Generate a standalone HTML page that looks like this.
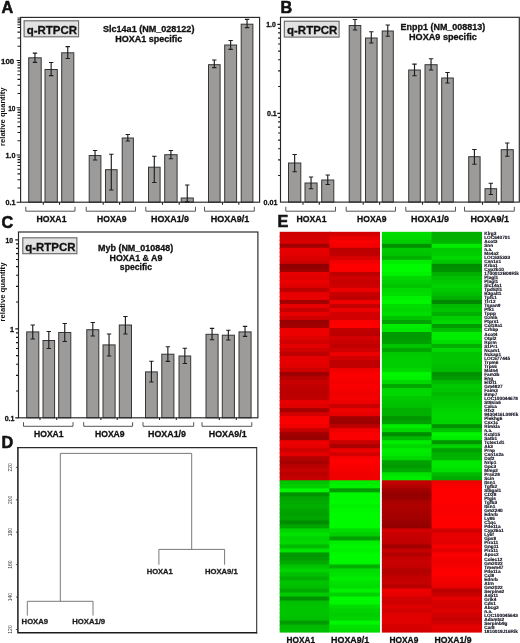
<!DOCTYPE html>
<html><head><meta charset="utf-8"><title>Figure</title>
<style>html,body{margin:0;padding:0;background:#fff;}body{width:520px;height:643px;overflow:hidden;font-family:"Liberation Sans",sans-serif;}svg{display:block}</style>
</head><body>
<svg width="520" height="643" viewBox="0 0 520 643" font-family="Liberation Sans, sans-serif" style="will-change:transform">
<rect width="520" height="643" fill="#fff"/>
<text x="1.5" y="12.6" font-size="16.2" font-weight="bold" text-anchor="start" fill="#111" stroke="#111" stroke-width="0.55">A</text>
<path d="M16.60 202.25H20.60M17.50 188.03H20.60M17.50 179.71H20.60M17.50 173.80H20.60M17.50 169.22H20.60M17.50 165.48H20.60M17.50 162.32H20.60M17.50 159.58H20.60M17.50 157.16H20.60M16.60 155.00H20.60M17.50 140.78H20.60M17.50 132.46H20.60M17.50 126.55H20.60M17.50 121.97H20.60M17.50 118.23H20.60M17.50 115.07H20.60M17.50 112.33H20.60M17.50 109.91H20.60M16.60 107.75H20.60M17.50 93.53H20.60M17.50 85.21H20.60M17.50 79.30H20.60M17.50 74.72H20.60M17.50 70.98H20.60M17.50 67.82H20.60M17.50 65.08H20.60M17.50 62.66H20.60M16.60 60.50H20.60M17.50 46.28H20.60M17.50 37.96H20.60M17.50 32.05H20.60M17.50 27.47H20.60" stroke="#1a1a1a" stroke-width="1.15" fill="none"/>
<path d="M17.50 18.0H20.6M17.50 19.7H20.6M17.50 21.2H20.6M17.50 22.7H20.6M17.50 24.8H20.6" stroke="#262626" stroke-width="1" fill="none"/>
<rect x="24.1" y="20.8" width="54.49999999999999" height="15.999999999999996" fill="#e2e2e2" stroke="#666" stroke-width="1.1"/>
<text x="51.849999999999994" y="33.8" font-size="10.8" font-weight="bold" text-anchor="middle" fill="#111" stroke="#111" stroke-width="0.28" textLength="50.3" lengthAdjust="spacingAndGlyphs" >q-RTPCR</text>
<text x="148.7" y="31.5" font-size="8.3" font-weight="bold" text-anchor="middle" fill="#111" stroke="#111" stroke-width="0.28" textLength="91.4" lengthAdjust="spacingAndGlyphs" >Slc14a1 (NM_028122)</text>
<text x="148.7" y="41.5" font-size="8.3" font-weight="bold" text-anchor="middle" fill="#111" stroke="#111" stroke-width="0.28" textLength="67" lengthAdjust="spacingAndGlyphs" >HOXA1 specific</text>
<text x="14.2" y="63.5" font-size="7.7" font-weight="bold" text-anchor="end" fill="#111" stroke="#111" stroke-width="0.28" textLength="13.1" lengthAdjust="spacingAndGlyphs" >100</text>
<text x="15.4" y="110.7" font-size="7.5" font-weight="bold" text-anchor="end" fill="#111" stroke="#111" stroke-width="0.28" textLength="7.2" lengthAdjust="spacingAndGlyphs" >10</text>
<text x="15.4" y="158.1" font-size="7.5" font-weight="bold" text-anchor="end" fill="#111" stroke="#111" stroke-width="0.28" textLength="10" lengthAdjust="spacingAndGlyphs" >1.0</text>
<text x="15.4" y="205.3" font-size="7.5" font-weight="bold" text-anchor="end" fill="#111" stroke="#111" stroke-width="0.28" textLength="10" lengthAdjust="spacingAndGlyphs" >0.1</text>
<text transform="translate(5.2,116.7) rotate(-90)" font-size="6.3" font-weight="bold" text-anchor="middle" fill="#111" textLength="58.5" lengthAdjust="spacingAndGlyphs">relative quantity</text>
<rect x="28.70" y="57.80" width="12.50" height="144.40" fill="#9d9b9a" stroke="#363636" stroke-width="1"/>
<path d="M34.95 53.10V62.30M32.75 53.10H37.15M32.75 62.30H37.15" stroke="#1e1e1e" stroke-width="1.15" fill="none"/>
<rect x="45.00" y="69.50" width="12.30" height="132.70" fill="#9d9b9a" stroke="#363636" stroke-width="1"/>
<path d="M51.15 62.50V75.60M48.95 62.50H53.35M48.95 75.60H53.35" stroke="#1e1e1e" stroke-width="1.15" fill="none"/>
<rect x="61.70" y="52.80" width="12.10" height="149.40" fill="#9d9b9a" stroke="#363636" stroke-width="1"/>
<path d="M67.75 46.60V58.50M65.55 46.60H69.95M65.55 58.50H69.95" stroke="#1e1e1e" stroke-width="1.15" fill="none"/>
<rect x="89.20" y="155.50" width="11.70" height="46.70" fill="#9d9b9a" stroke="#363636" stroke-width="1"/>
<path d="M95.05 150.50V160.00M92.85 150.50H97.25M92.85 160.00H97.25" stroke="#1e1e1e" stroke-width="1.15" fill="none"/>
<rect x="105.50" y="169.70" width="11.60" height="32.50" fill="#9d9b9a" stroke="#363636" stroke-width="1"/>
<path d="M111.30 154.20V190.00M109.10 154.20H113.50M109.10 190.00H113.50" stroke="#1e1e1e" stroke-width="1.15" fill="none"/>
<rect x="122.20" y="138.00" width="11.20" height="64.20" fill="#9d9b9a" stroke="#363636" stroke-width="1"/>
<path d="M127.80 134.50V141.00M125.60 134.50H130.00M125.60 141.00H130.00" stroke="#1e1e1e" stroke-width="1.15" fill="none"/>
<rect x="148.50" y="167.20" width="11.60" height="35.00" fill="#9d9b9a" stroke="#363636" stroke-width="1"/>
<path d="M154.30 156.20V182.50M152.10 156.20H156.50M152.10 182.50H156.50" stroke="#1e1e1e" stroke-width="1.15" fill="none"/>
<rect x="164.70" y="154.70" width="12.40" height="47.50" fill="#9d9b9a" stroke="#363636" stroke-width="1"/>
<path d="M170.90 150.50V158.70M168.70 150.50H173.10M168.70 158.70H173.10" stroke="#1e1e1e" stroke-width="1.15" fill="none"/>
<rect x="181.20" y="198.00" width="12.10" height="4.20" fill="#9d9b9a" stroke="#363636" stroke-width="1"/>
<path d="M187.25 185.00V201.60M185.05 185.00H189.45M185.05 201.60H189.45" stroke="#1e1e1e" stroke-width="1.15" fill="none"/>
<rect x="208.50" y="64.70" width="11.60" height="137.50" fill="#9d9b9a" stroke="#363636" stroke-width="1"/>
<path d="M214.30 60.00V67.60M212.10 60.00H216.50M212.10 67.60H216.50" stroke="#1e1e1e" stroke-width="1.15" fill="none"/>
<rect x="224.70" y="45.00" width="11.90" height="157.20" fill="#9d9b9a" stroke="#363636" stroke-width="1"/>
<path d="M230.65 40.50V49.30M228.45 40.50H232.85M228.45 49.30H232.85" stroke="#1e1e1e" stroke-width="1.15" fill="none"/>
<rect x="241.20" y="24.20" width="11.70" height="178.00" fill="#9d9b9a" stroke="#363636" stroke-width="1"/>
<path d="M247.05 19.30V27.60M244.85 19.30H249.25M244.85 27.60H249.25" stroke="#1e1e1e" stroke-width="1.15" fill="none"/>
<rect x="20.6" y="17.4" width="239.00000000000003" height="184.79999999999998" fill="none" stroke="#262626" stroke-width="1.15"/>
<path d="M25.80 206.80V211.20H75.00V206.80" stroke="#555" stroke-width="1" fill="none"/>
<path d="M86.20 206.80V211.20H135.50V206.80" stroke="#555" stroke-width="1" fill="none"/>
<path d="M145.80 206.80V211.20H195.50V206.80" stroke="#555" stroke-width="1" fill="none"/>
<path d="M204.50 206.80V211.20H254.30V206.80" stroke="#555" stroke-width="1" fill="none"/>
<path d="M43.3 202.2V204.79999999999998M59.5 202.2V204.79999999999998M103.2 202.2V204.79999999999998M119.6 202.2V204.79999999999998M162.5 202.2V204.79999999999998M179.2 202.2V204.79999999999998M222.5 202.2V204.79999999999998M238.8 202.2V204.79999999999998" stroke="#222" stroke-width="1.1" fill="none"/>
<text x="51.5" y="222.3" font-size="8.5" font-weight="bold" text-anchor="middle" fill="#111" stroke="#111" stroke-width="0.28" textLength="30" lengthAdjust="spacingAndGlyphs" >HOXA1</text>
<text x="111.8" y="222.3" font-size="8.5" font-weight="bold" text-anchor="middle" fill="#111" stroke="#111" stroke-width="0.28" textLength="29.5" lengthAdjust="spacingAndGlyphs" >HOXA9</text>
<text x="170" y="222.3" font-size="8.5" font-weight="bold" text-anchor="middle" fill="#111" stroke="#111" stroke-width="0.28" textLength="38" lengthAdjust="spacingAndGlyphs" >HOXA1/9</text>
<text x="230" y="222.3" font-size="8.5" font-weight="bold" text-anchor="middle" fill="#111" stroke="#111" stroke-width="0.28" textLength="38.5" lengthAdjust="spacingAndGlyphs" >HOXA9/1</text>
<text x="280.6" y="13.3" font-size="16.2" font-weight="bold" text-anchor="start" fill="#111" stroke="#111" stroke-width="0.55">B</text>
<path d="M278.10 175.51H280.50M278.10 159.84H280.50M278.10 148.72H280.50M278.10 140.09H280.50M278.10 133.04H280.50M278.10 127.09H280.50M278.10 121.92H280.50M278.10 117.37H280.50M277.30 113.30H280.50M278.10 86.51H280.50M278.10 70.84H280.50M278.10 59.72H280.50M278.10 51.09H280.50M278.10 44.04H280.50M278.10 38.09H280.50M278.10 32.92H280.50M278.10 28.37H280.50M277.30 24.30H280.50" stroke="#1a1a1a" stroke-width="1.15" fill="none"/>
<rect x="284.3" y="21.2" width="54.80000000000001" height="15.900000000000002" fill="#e2e2e2" stroke="#666" stroke-width="1.1"/>
<text x="312.20000000000005" y="34.2" font-size="10.8" font-weight="bold" text-anchor="middle" fill="#111" stroke="#111" stroke-width="0.28" textLength="50.3" lengthAdjust="spacingAndGlyphs" >q-RTPCR</text>
<text x="442.9" y="29.9" font-size="8.3" font-weight="bold" text-anchor="middle" fill="#111" stroke="#111" stroke-width="0.28" textLength="84.6" lengthAdjust="spacingAndGlyphs" >Enpp1 (NM_008813)</text>
<text x="442.9" y="39.8" font-size="8.3" font-weight="bold" text-anchor="middle" fill="#111" stroke="#111" stroke-width="0.28" textLength="67.7" lengthAdjust="spacingAndGlyphs" >HOXA9 specific</text>
<text x="275.8" y="27.4" font-size="7.2" font-weight="bold" text-anchor="end" fill="#111" stroke="#111" stroke-width="0.28" textLength="9.6" lengthAdjust="spacingAndGlyphs" >1.0</text>
<text x="276.8" y="116.1" font-size="7.2" font-weight="bold" text-anchor="end" fill="#111" stroke="#111" stroke-width="0.28" textLength="9.8" lengthAdjust="spacingAndGlyphs" >0.1</text>
<text x="277.4" y="205.3" font-size="7.2" font-weight="bold" text-anchor="end" fill="#111" stroke="#111" stroke-width="0.28" textLength="13.8" lengthAdjust="spacingAndGlyphs" >0.01</text>
<rect x="288.50" y="163.00" width="12.30" height="39.10" fill="#9d9b9a" stroke="#363636" stroke-width="1"/>
<path d="M294.65 154.50V171.70M292.45 154.50H296.85M292.45 171.70H296.85" stroke="#1e1e1e" stroke-width="1.15" fill="none"/>
<rect x="305.00" y="183.00" width="12.10" height="19.10" fill="#9d9b9a" stroke="#363636" stroke-width="1"/>
<path d="M311.05 177.00V188.70M308.85 177.00H313.25M308.85 188.70H313.25" stroke="#1e1e1e" stroke-width="1.15" fill="none"/>
<rect x="321.70" y="180.00" width="12.10" height="22.10" fill="#9d9b9a" stroke="#363636" stroke-width="1"/>
<path d="M327.75 175.00V184.50M325.55 175.00H329.95M325.55 184.50H329.95" stroke="#1e1e1e" stroke-width="1.15" fill="none"/>
<rect x="349.20" y="25.50" width="11.60" height="176.60" fill="#9d9b9a" stroke="#363636" stroke-width="1"/>
<path d="M355.00 19.50V30.00M352.80 19.50H357.20M352.80 30.00H357.20" stroke="#1e1e1e" stroke-width="1.15" fill="none"/>
<rect x="365.50" y="38.00" width="11.60" height="164.10" fill="#9d9b9a" stroke="#363636" stroke-width="1"/>
<path d="M371.30 31.70V43.00M369.10 31.70H373.50M369.10 43.00H373.50" stroke="#1e1e1e" stroke-width="1.15" fill="none"/>
<rect x="382.20" y="31.00" width="11.10" height="171.10" fill="#9d9b9a" stroke="#363636" stroke-width="1"/>
<path d="M387.75 25.00V36.20M385.55 25.00H389.95M385.55 36.20H389.95" stroke="#1e1e1e" stroke-width="1.15" fill="none"/>
<rect x="408.70" y="70.00" width="11.60" height="132.10" fill="#9d9b9a" stroke="#363636" stroke-width="1"/>
<path d="M414.50 64.20V75.70M412.30 64.20H416.70M412.30 75.70H416.70" stroke="#1e1e1e" stroke-width="1.15" fill="none"/>
<rect x="425.00" y="64.70" width="12.10" height="137.40" fill="#9d9b9a" stroke="#363636" stroke-width="1"/>
<path d="M431.05 58.70V70.00M428.85 58.70H433.25M428.85 70.00H433.25" stroke="#1e1e1e" stroke-width="1.15" fill="none"/>
<rect x="441.70" y="78.00" width="11.60" height="124.10" fill="#9d9b9a" stroke="#363636" stroke-width="1"/>
<path d="M447.50 72.50V83.00M445.30 72.50H449.70M445.30 83.00H449.70" stroke="#1e1e1e" stroke-width="1.15" fill="none"/>
<rect x="468.70" y="156.70" width="11.40" height="45.40" fill="#9d9b9a" stroke="#363636" stroke-width="1"/>
<path d="M474.40 149.50V164.20M472.20 149.50H476.60M472.20 164.20H476.60" stroke="#1e1e1e" stroke-width="1.15" fill="none"/>
<rect x="485.00" y="188.70" width="11.60" height="13.40" fill="#9d9b9a" stroke="#363636" stroke-width="1"/>
<path d="M490.80 183.20V194.50M488.60 183.20H493.00M488.60 194.50H493.00" stroke="#1e1e1e" stroke-width="1.15" fill="none"/>
<rect x="501.20" y="149.70" width="12.10" height="52.40" fill="#9d9b9a" stroke="#363636" stroke-width="1"/>
<path d="M507.25 143.00V156.20M505.05 143.00H509.45M505.05 156.20H509.45" stroke="#1e1e1e" stroke-width="1.15" fill="none"/>
<rect x="280.5" y="17.3" width="238.79999999999995" height="184.79999999999998" fill="none" stroke="#262626" stroke-width="1.15"/>
<path d="M285.80 206.80V211.20H335.50V206.80" stroke="#555" stroke-width="1" fill="none"/>
<path d="M346.20 206.80V211.20H395.50V206.80" stroke="#555" stroke-width="1" fill="none"/>
<path d="M405.80 206.80V211.20H455.50V206.80" stroke="#555" stroke-width="1" fill="none"/>
<path d="M464.50 206.80V211.20H514.30V206.80" stroke="#555" stroke-width="1" fill="none"/>
<path d="M303 202.1V204.7M319.3 202.1V204.7M363.2 202.1V204.7M379.6 202.1V204.7M422.5 202.1V204.7M439.2 202.1V204.7M482.5 202.1V204.7M498.8 202.1V204.7" stroke="#222" stroke-width="1.1" fill="none"/>
<text x="311.5" y="222.3" font-size="8.5" font-weight="bold" text-anchor="middle" fill="#111" stroke="#111" stroke-width="0.28" textLength="30" lengthAdjust="spacingAndGlyphs" >HOXA1</text>
<text x="371.8" y="222.3" font-size="8.5" font-weight="bold" text-anchor="middle" fill="#111" stroke="#111" stroke-width="0.28" textLength="29.5" lengthAdjust="spacingAndGlyphs" >HOXA9</text>
<text x="430" y="222.3" font-size="8.5" font-weight="bold" text-anchor="middle" fill="#111" stroke="#111" stroke-width="0.28" textLength="38" lengthAdjust="spacingAndGlyphs" >HOXA1/9</text>
<text x="489.7" y="222.3" font-size="8.5" font-weight="bold" text-anchor="middle" fill="#111" stroke="#111" stroke-width="0.28" textLength="38.5" lengthAdjust="spacingAndGlyphs" >HOXA9/1</text>
<text x="1.6" y="228.2" font-size="16.2" font-weight="bold" text-anchor="start" fill="#111" stroke="#111" stroke-width="0.55">C</text>
<path d="M15.30 417.80H18.50M16.00 391.01H18.50M16.00 375.34H18.50M16.00 364.22H18.50M16.00 355.59H18.50M16.00 348.54H18.50M16.00 342.59H18.50M16.00 337.42H18.50M16.00 332.87H18.50M15.30 328.80H18.50M16.00 302.01H18.50M16.00 286.34H18.50M16.00 275.22H18.50M16.00 266.59H18.50M16.00 259.54H18.50M16.00 253.59H18.50M16.00 248.42H18.50M16.00 243.87H18.50M15.30 239.80H18.50" stroke="#1a1a1a" stroke-width="1.15" fill="none"/>
<rect x="22.8" y="237.8" width="54.10000000000001" height="15.899999999999977" fill="#e2e2e2" stroke="#666" stroke-width="1.1"/>
<text x="50.35" y="250.8" font-size="10.8" font-weight="bold" text-anchor="middle" fill="#111" stroke="#111" stroke-width="0.28" textLength="50.3" lengthAdjust="spacingAndGlyphs" >q-RTPCR</text>
<text x="135.6" y="250.8" font-size="8.3" font-weight="bold" text-anchor="middle" fill="#111" stroke="#111" stroke-width="0.28" textLength="75.1" lengthAdjust="spacingAndGlyphs" >Myb (NM_010848)</text>
<text x="136" y="260.7" font-size="8.3" font-weight="bold" text-anchor="middle" fill="#111" stroke="#111" stroke-width="0.28" textLength="52.9" lengthAdjust="spacingAndGlyphs" >HOXA1 &amp; A9</text>
<text x="135.9" y="269.8" font-size="8.3" font-weight="bold" text-anchor="middle" fill="#111" stroke="#111" stroke-width="0.28" textLength="32.1" lengthAdjust="spacingAndGlyphs" >specific</text>
<text x="12.9" y="243.2" font-size="7.2" font-weight="bold" text-anchor="end" fill="#111" stroke="#111" stroke-width="0.28" textLength="7.5" lengthAdjust="spacingAndGlyphs" >10</text>
<text x="14" y="331.6" font-size="7.2" font-weight="bold" text-anchor="end" fill="#111" stroke="#111" stroke-width="0.28" >1</text>
<text x="14.5" y="420.9" font-size="7.2" font-weight="bold" text-anchor="end" fill="#111" stroke="#111" stroke-width="0.28" textLength="9.8" lengthAdjust="spacingAndGlyphs" >0.1</text>
<text transform="translate(5.3,292) rotate(-90)" font-size="6.3" font-weight="bold" text-anchor="middle" fill="#111" textLength="58.8" lengthAdjust="spacingAndGlyphs">relative quantity</text>
<rect x="26.70" y="331.90" width="12.10" height="85.90" fill="#9d9b9a" stroke="#363636" stroke-width="1"/>
<path d="M32.75 325.00V339.00M30.55 325.00H34.95M30.55 339.00H34.95" stroke="#1e1e1e" stroke-width="1.15" fill="none"/>
<rect x="43.00" y="340.50" width="11.60" height="77.30" fill="#9d9b9a" stroke="#363636" stroke-width="1"/>
<path d="M48.80 331.50V348.50M46.60 331.50H51.00M46.60 348.50H51.00" stroke="#1e1e1e" stroke-width="1.15" fill="none"/>
<rect x="58.70" y="332.50" width="12.10" height="85.30" fill="#9d9b9a" stroke="#363636" stroke-width="1"/>
<path d="M64.75 323.50V341.50M62.55 323.50H66.95M62.55 341.50H66.95" stroke="#1e1e1e" stroke-width="1.15" fill="none"/>
<rect x="86.80" y="329.70" width="12.00" height="88.10" fill="#9d9b9a" stroke="#363636" stroke-width="1"/>
<path d="M92.80 322.50V336.00M90.60 322.50H95.00M90.60 336.00H95.00" stroke="#1e1e1e" stroke-width="1.15" fill="none"/>
<rect x="103.00" y="344.90" width="12.10" height="72.90" fill="#9d9b9a" stroke="#363636" stroke-width="1"/>
<path d="M109.05 334.00V356.00M106.85 334.00H111.25M106.85 356.00H111.25" stroke="#1e1e1e" stroke-width="1.15" fill="none"/>
<rect x="119.30" y="325.00" width="12.20" height="92.80" fill="#9d9b9a" stroke="#363636" stroke-width="1"/>
<path d="M125.40 316.50V334.00M123.20 316.50H127.60M123.20 334.00H127.60" stroke="#1e1e1e" stroke-width="1.15" fill="none"/>
<rect x="145.50" y="371.90" width="11.80" height="45.90" fill="#9d9b9a" stroke="#363636" stroke-width="1"/>
<path d="M151.40 361.20V382.00M149.20 361.20H153.60M149.20 382.00H153.60" stroke="#1e1e1e" stroke-width="1.15" fill="none"/>
<rect x="161.80" y="354.20" width="12.10" height="63.60" fill="#9d9b9a" stroke="#363636" stroke-width="1"/>
<path d="M167.85 346.70V361.30M165.65 346.70H170.05M165.65 361.30H170.05" stroke="#1e1e1e" stroke-width="1.15" fill="none"/>
<rect x="179.00" y="356.00" width="11.70" height="61.80" fill="#9d9b9a" stroke="#363636" stroke-width="1"/>
<path d="M184.85 348.20V363.50M182.65 348.20H187.05M182.65 363.50H187.05" stroke="#1e1e1e" stroke-width="1.15" fill="none"/>
<rect x="206.00" y="334.30" width="12.10" height="83.50" fill="#9d9b9a" stroke="#363636" stroke-width="1"/>
<path d="M212.05 328.30V339.70M209.85 328.30H214.25M209.85 339.70H214.25" stroke="#1e1e1e" stroke-width="1.15" fill="none"/>
<rect x="222.30" y="335.20" width="12.10" height="82.60" fill="#9d9b9a" stroke="#363636" stroke-width="1"/>
<path d="M228.35 330.20V340.00M226.15 330.20H230.55M226.15 340.00H230.55" stroke="#1e1e1e" stroke-width="1.15" fill="none"/>
<rect x="239.00" y="331.90" width="12.10" height="85.90" fill="#9d9b9a" stroke="#363636" stroke-width="1"/>
<path d="M245.05 326.30V336.40M242.85 326.30H247.25M242.85 336.40H247.25" stroke="#1e1e1e" stroke-width="1.15" fill="none"/>
<rect x="18.5" y="232" width="239.39999999999998" height="185.8" fill="none" stroke="#262626" stroke-width="1.15"/>
<path d="M23.50 422.20V426.30H73.00V422.20" stroke="#555" stroke-width="1" fill="none"/>
<path d="M83.70 422.20V426.30H132.60V422.20" stroke="#555" stroke-width="1" fill="none"/>
<path d="M143.00 422.20V426.30H193.70V422.20" stroke="#555" stroke-width="1" fill="none"/>
<path d="M202.00 422.20V426.30H251.80V422.20" stroke="#555" stroke-width="1" fill="none"/>
<path d="M40 417.8V420.0M56.7 417.8V420.0M100.9 417.8V420.0M117.2 417.8V420.0M159.5 417.8V420.0M176.3 417.8V420.0M219.3 417.8V420.0M236.3 417.8V420.0" stroke="#222" stroke-width="1.1" fill="none"/>
<text x="48.8" y="437.3" font-size="8.5" font-weight="bold" text-anchor="middle" fill="#111" stroke="#111" stroke-width="0.28" textLength="29.6" lengthAdjust="spacingAndGlyphs" >HOXA1</text>
<text x="109.8" y="437.3" font-size="8.5" font-weight="bold" text-anchor="middle" fill="#111" stroke="#111" stroke-width="0.28" textLength="29.6" lengthAdjust="spacingAndGlyphs" >HOXA9</text>
<text x="167" y="437.3" font-size="8.5" font-weight="bold" text-anchor="middle" fill="#111" stroke="#111" stroke-width="0.28" textLength="37.9" lengthAdjust="spacingAndGlyphs" >HOXA1/9</text>
<text x="227.7" y="437.3" font-size="8.5" font-weight="bold" text-anchor="middle" fill="#111" stroke="#111" stroke-width="0.28" textLength="37.9" lengthAdjust="spacingAndGlyphs" >HOXA9/1</text>
<text x="1.4" y="448.4" font-size="16.2" font-weight="bold" text-anchor="start" fill="#111" stroke="#111" stroke-width="0.55">D</text>
<path d="M17.9 447.1V632.7H257.2" stroke="#1c1c1c" stroke-width="1.5" fill="none" stroke-linejoin="miter"/>
<path d="M17.2 447.6H256.7V633.4" stroke="#2a2a2a" stroke-width="1.05" fill="none"/>
<path d="M60.3 601.3V453.4H191.7V549.4M27.3 615.6V601.3H93V615.6M158.9 564.7V549.4H224.6V564.7" stroke="#6a6a6a" stroke-width="0.9" fill="none"/>
<text x="34.8" y="624.3" font-size="7.6" font-weight="bold" text-anchor="middle" fill="#1c1c1c" stroke="#1c1c1c" stroke-width="0.28" textLength="26.4" lengthAdjust="spacingAndGlyphs" >HOXA9</text>
<text x="88.7" y="624.3" font-size="7.6" font-weight="bold" text-anchor="middle" fill="#1c1c1c" stroke="#1c1c1c" stroke-width="0.28" textLength="32.9" lengthAdjust="spacingAndGlyphs" >HOXA1/9</text>
<text x="159.7" y="573.9" font-size="7.6" font-weight="bold" text-anchor="middle" fill="#1c1c1c" stroke="#1c1c1c" stroke-width="0.28" textLength="26" lengthAdjust="spacingAndGlyphs" >HOXA1</text>
<text x="221.4" y="573.9" font-size="7.6" font-weight="bold" text-anchor="middle" fill="#1c1c1c" stroke="#1c1c1c" stroke-width="0.28" textLength="32.7" lengthAdjust="spacingAndGlyphs" >HOXA9/1</text>
<path d="M15.9 467.3H17.6" stroke="#333" stroke-width="0.8"/>
<text transform="translate(11.8,467.3) rotate(-90)" font-size="5" text-anchor="middle" fill="#3a3a3a">220</text>
<path d="M15.9 499.8H17.6" stroke="#333" stroke-width="0.8"/>
<text transform="translate(11.8,499.8) rotate(-90)" font-size="5" text-anchor="middle" fill="#3a3a3a">200</text>
<path d="M15.9 532.2H17.6" stroke="#333" stroke-width="0.8"/>
<text transform="translate(11.8,532.2) rotate(-90)" font-size="5" text-anchor="middle" fill="#3a3a3a">180</text>
<path d="M15.9 564.6H17.6" stroke="#333" stroke-width="0.8"/>
<text transform="translate(11.8,564.6) rotate(-90)" font-size="5" text-anchor="middle" fill="#3a3a3a">160</text>
<path d="M15.9 597.1H17.6" stroke="#333" stroke-width="0.8"/>
<text transform="translate(11.8,597.1) rotate(-90)" font-size="5" text-anchor="middle" fill="#3a3a3a">140</text>
<path d="M15.9 629.5H17.6" stroke="#333" stroke-width="0.8"/>
<text transform="translate(11.8,629.5) rotate(-90)" font-size="5" text-anchor="middle" fill="#3a3a3a">120</text>
<text x="277.5" y="227.3" font-size="16.2" font-weight="bold" text-anchor="start" fill="#111" stroke="#111" stroke-width="0.55">E</text>
<defs><filter id="hb" x="-2%" y="-2%" width="104%" height="104%"><feGaussianBlur stdDeviation="0.35 0.75"/></filter></defs>
<g filter="url(#hb)">
<rect x="279.7" y="231.80" width="50.9" height="5.31" fill="#ce0303"/>
<rect x="279.7" y="235.81" width="50.9" height="5.31" fill="#d20303"/>
<rect x="279.7" y="239.82" width="50.9" height="5.31" fill="#d60303"/>
<rect x="279.7" y="243.82" width="50.9" height="5.31" fill="#a20000"/>
<rect x="279.7" y="247.83" width="50.9" height="5.31" fill="#e80404"/>
<rect x="279.7" y="251.84" width="50.9" height="5.31" fill="#e40404"/>
<rect x="279.7" y="255.85" width="50.9" height="5.31" fill="#db0303"/>
<rect x="279.7" y="259.86" width="50.9" height="5.31" fill="#ce0303"/>
<rect x="279.7" y="263.86" width="50.9" height="5.31" fill="#900000"/>
<rect x="279.7" y="267.87" width="50.9" height="5.31" fill="#990000"/>
<rect x="279.7" y="271.88" width="50.9" height="5.31" fill="#e80404"/>
<rect x="279.7" y="275.89" width="50.9" height="5.31" fill="#df0303"/>
<rect x="279.7" y="279.90" width="50.9" height="5.31" fill="#ec0404"/>
<rect x="279.7" y="283.90" width="50.9" height="5.31" fill="#df0303"/>
<rect x="279.7" y="287.91" width="50.9" height="5.31" fill="#bc0202"/>
<rect x="279.7" y="291.92" width="50.9" height="5.31" fill="#e80404"/>
<rect x="279.7" y="295.93" width="50.9" height="5.31" fill="#e80404"/>
<rect x="279.7" y="299.94" width="50.9" height="5.31" fill="#a20000"/>
<rect x="279.7" y="303.94" width="50.9" height="5.31" fill="#e80404"/>
<rect x="279.7" y="307.95" width="50.9" height="5.31" fill="#c50202"/>
<rect x="279.7" y="311.96" width="50.9" height="5.31" fill="#e80404"/>
<rect x="279.7" y="315.97" width="50.9" height="5.31" fill="#ce0303"/>
<rect x="279.7" y="319.98" width="50.9" height="5.31" fill="#990000"/>
<rect x="279.7" y="323.98" width="50.9" height="5.31" fill="#a20000"/>
<rect x="279.7" y="327.99" width="50.9" height="5.31" fill="#ec0404"/>
<rect x="279.7" y="332.00" width="50.9" height="5.31" fill="#ec0404"/>
<rect x="279.7" y="336.01" width="50.9" height="5.31" fill="#df0303"/>
<rect x="279.7" y="340.02" width="50.9" height="5.31" fill="#d20303"/>
<rect x="279.7" y="344.02" width="50.9" height="5.31" fill="#e40404"/>
<rect x="279.7" y="348.03" width="50.9" height="5.31" fill="#ce0303"/>
<rect x="279.7" y="352.04" width="50.9" height="5.31" fill="#bc0202"/>
<rect x="279.7" y="356.05" width="50.9" height="5.31" fill="#e40404"/>
<rect x="279.7" y="360.06" width="50.9" height="5.31" fill="#e80404"/>
<rect x="279.7" y="364.06" width="50.9" height="5.31" fill="#df0303"/>
<rect x="279.7" y="368.07" width="50.9" height="5.31" fill="#ce0303"/>
<rect x="279.7" y="372.08" width="50.9" height="5.31" fill="#9d0000"/>
<rect x="279.7" y="376.09" width="50.9" height="5.31" fill="#b80202"/>
<rect x="279.7" y="380.10" width="50.9" height="5.31" fill="#c90202"/>
<rect x="279.7" y="384.10" width="50.9" height="5.31" fill="#c00202"/>
<rect x="279.7" y="388.11" width="50.9" height="5.31" fill="#bc0202"/>
<rect x="279.7" y="392.12" width="50.9" height="5.31" fill="#bc0202"/>
<rect x="279.7" y="396.13" width="50.9" height="5.31" fill="#c00202"/>
<rect x="279.7" y="400.14" width="50.9" height="5.31" fill="#e80404"/>
<rect x="279.7" y="404.14" width="50.9" height="5.31" fill="#df0303"/>
<rect x="279.7" y="408.15" width="50.9" height="5.31" fill="#a60101"/>
<rect x="279.7" y="412.16" width="50.9" height="5.31" fill="#d20303"/>
<rect x="279.7" y="416.17" width="50.9" height="5.31" fill="#fa0505"/>
<rect x="279.7" y="420.18" width="50.9" height="5.31" fill="#fa0505"/>
<rect x="279.7" y="424.18" width="50.9" height="5.31" fill="#f10404"/>
<rect x="279.7" y="428.19" width="50.9" height="5.31" fill="#c50202"/>
<rect x="279.7" y="432.20" width="50.9" height="5.31" fill="#a20000"/>
<rect x="279.7" y="436.21" width="50.9" height="5.31" fill="#990000"/>
<rect x="279.7" y="440.22" width="50.9" height="5.31" fill="#ec0404"/>
<rect x="279.7" y="444.22" width="50.9" height="5.31" fill="#e80404"/>
<rect x="279.7" y="448.23" width="50.9" height="5.31" fill="#ce0303"/>
<rect x="279.7" y="452.24" width="50.9" height="5.31" fill="#e40404"/>
<rect x="279.7" y="456.25" width="50.9" height="5.31" fill="#b30101"/>
<rect x="279.7" y="460.26" width="50.9" height="5.31" fill="#a60101"/>
<rect x="279.7" y="464.26" width="50.9" height="5.31" fill="#b80202"/>
<rect x="279.7" y="468.27" width="50.9" height="5.31" fill="#c50202"/>
<rect x="279.7" y="472.28" width="50.9" height="5.31" fill="#bc0202"/>
<rect x="279.7" y="476.29" width="50.9" height="5.31" fill="#c50202"/>
<rect x="279.7" y="480.30" width="50.9" height="5.31" fill="#02c402"/>
<rect x="279.7" y="484.30" width="50.9" height="5.31" fill="#02ce02"/>
<rect x="279.7" y="488.31" width="50.9" height="5.31" fill="#05f705"/>
<rect x="279.7" y="492.32" width="50.9" height="5.31" fill="#009100"/>
<rect x="279.7" y="496.33" width="50.9" height="5.31" fill="#00a500"/>
<rect x="279.7" y="500.34" width="50.9" height="5.31" fill="#00aa00"/>
<rect x="279.7" y="504.34" width="50.9" height="5.31" fill="#00af00"/>
<rect x="279.7" y="508.35" width="50.9" height="5.31" fill="#00a500"/>
<rect x="279.7" y="512.36" width="50.9" height="5.31" fill="#00a000"/>
<rect x="279.7" y="516.37" width="50.9" height="5.31" fill="#00a500"/>
<rect x="279.7" y="520.38" width="50.9" height="5.31" fill="#008c00"/>
<rect x="279.7" y="524.38" width="50.9" height="5.31" fill="#00a500"/>
<rect x="279.7" y="528.39" width="50.9" height="5.31" fill="#03d303"/>
<rect x="279.7" y="532.40" width="50.9" height="5.31" fill="#04e304"/>
<rect x="279.7" y="536.41" width="50.9" height="5.31" fill="#03d303"/>
<rect x="279.7" y="540.42" width="50.9" height="5.31" fill="#03d803"/>
<rect x="279.7" y="544.42" width="50.9" height="5.31" fill="#01ba01"/>
<rect x="279.7" y="548.43" width="50.9" height="5.31" fill="#04e304"/>
<rect x="279.7" y="552.44" width="50.9" height="5.31" fill="#009600"/>
<rect x="279.7" y="556.45" width="50.9" height="5.31" fill="#009b00"/>
<rect x="279.7" y="560.46" width="50.9" height="5.31" fill="#00aa00"/>
<rect x="279.7" y="564.46" width="50.9" height="5.31" fill="#02c402"/>
<rect x="279.7" y="568.47" width="50.9" height="5.31" fill="#03d303"/>
<rect x="279.7" y="572.48" width="50.9" height="5.31" fill="#01bf01"/>
<rect x="279.7" y="576.49" width="50.9" height="5.31" fill="#00af00"/>
<rect x="279.7" y="580.50" width="50.9" height="5.31" fill="#02c402"/>
<rect x="279.7" y="584.50" width="50.9" height="5.31" fill="#01bf01"/>
<rect x="279.7" y="588.51" width="50.9" height="5.31" fill="#00aa00"/>
<rect x="279.7" y="592.52" width="50.9" height="5.31" fill="#02c902"/>
<rect x="279.7" y="596.53" width="50.9" height="5.31" fill="#009100"/>
<rect x="279.7" y="600.54" width="50.9" height="5.31" fill="#01bf01"/>
<rect x="279.7" y="604.54" width="50.9" height="5.31" fill="#02c402"/>
<rect x="279.7" y="608.55" width="50.9" height="5.31" fill="#02c402"/>
<rect x="279.7" y="612.56" width="50.9" height="5.31" fill="#02c402"/>
<rect x="279.7" y="616.57" width="50.9" height="5.31" fill="#01bf01"/>
<rect x="279.7" y="620.58" width="50.9" height="5.31" fill="#009b00"/>
<rect x="279.7" y="624.58" width="50.9" height="5.31" fill="#01ba01"/>
<rect x="279.7" y="628.59" width="50.9" height="5.31" fill="#01bf01"/>
<rect x="329.4" y="231.80" width="50.6" height="5.31" fill="#d20303"/>
<rect x="329.4" y="235.81" width="50.6" height="5.31" fill="#e80404"/>
<rect x="329.4" y="239.82" width="50.6" height="5.31" fill="#fa0505"/>
<rect x="329.4" y="243.82" width="50.6" height="5.31" fill="#f50505"/>
<rect x="329.4" y="247.83" width="50.6" height="5.31" fill="#bc0202"/>
<rect x="329.4" y="251.84" width="50.6" height="5.31" fill="#c00202"/>
<rect x="329.4" y="255.85" width="50.6" height="5.31" fill="#d60303"/>
<rect x="329.4" y="259.86" width="50.6" height="5.31" fill="#f10404"/>
<rect x="329.4" y="263.86" width="50.6" height="5.31" fill="#ff0505"/>
<rect x="329.4" y="267.87" width="50.6" height="5.31" fill="#fe0505"/>
<rect x="329.4" y="271.88" width="50.6" height="5.31" fill="#bc0202"/>
<rect x="329.4" y="275.89" width="50.6" height="5.31" fill="#ce0303"/>
<rect x="329.4" y="279.90" width="50.6" height="5.31" fill="#c90202"/>
<rect x="329.4" y="283.90" width="50.6" height="5.31" fill="#ce0303"/>
<rect x="329.4" y="287.91" width="50.6" height="5.31" fill="#ec0404"/>
<rect x="329.4" y="291.92" width="50.6" height="5.31" fill="#c90202"/>
<rect x="329.4" y="295.93" width="50.6" height="5.31" fill="#c00202"/>
<rect x="329.4" y="299.94" width="50.6" height="5.31" fill="#f10404"/>
<rect x="329.4" y="303.94" width="50.6" height="5.31" fill="#c50202"/>
<rect x="329.4" y="307.95" width="50.6" height="5.31" fill="#ec0404"/>
<rect x="329.4" y="311.96" width="50.6" height="5.31" fill="#d20303"/>
<rect x="329.4" y="315.97" width="50.6" height="5.31" fill="#d20303"/>
<rect x="329.4" y="319.98" width="50.6" height="5.31" fill="#fa0505"/>
<rect x="329.4" y="323.98" width="50.6" height="5.31" fill="#fe0505"/>
<rect x="329.4" y="327.99" width="50.6" height="5.31" fill="#c00202"/>
<rect x="329.4" y="332.00" width="50.6" height="5.31" fill="#bc0202"/>
<rect x="329.4" y="336.01" width="50.6" height="5.31" fill="#d20303"/>
<rect x="329.4" y="340.02" width="50.6" height="5.31" fill="#c90202"/>
<rect x="329.4" y="344.02" width="50.6" height="5.31" fill="#c00202"/>
<rect x="329.4" y="348.03" width="50.6" height="5.31" fill="#ce0303"/>
<rect x="329.4" y="352.04" width="50.6" height="5.31" fill="#ec0404"/>
<rect x="329.4" y="356.05" width="50.6" height="5.31" fill="#d20303"/>
<rect x="329.4" y="360.06" width="50.6" height="5.31" fill="#c00202"/>
<rect x="329.4" y="364.06" width="50.6" height="5.31" fill="#c00202"/>
<rect x="329.4" y="368.07" width="50.6" height="5.31" fill="#f10404"/>
<rect x="329.4" y="372.08" width="50.6" height="5.31" fill="#fa0505"/>
<rect x="329.4" y="376.09" width="50.6" height="5.31" fill="#fa0505"/>
<rect x="329.4" y="380.10" width="50.6" height="5.31" fill="#f50505"/>
<rect x="329.4" y="384.10" width="50.6" height="5.31" fill="#fa0505"/>
<rect x="329.4" y="388.11" width="50.6" height="5.31" fill="#f50505"/>
<rect x="329.4" y="392.12" width="50.6" height="5.31" fill="#f10404"/>
<rect x="329.4" y="396.13" width="50.6" height="5.31" fill="#f50505"/>
<rect x="329.4" y="400.14" width="50.6" height="5.31" fill="#ec0404"/>
<rect x="329.4" y="404.14" width="50.6" height="5.31" fill="#c90202"/>
<rect x="329.4" y="408.15" width="50.6" height="5.31" fill="#f10404"/>
<rect x="329.4" y="412.16" width="50.6" height="5.31" fill="#e80404"/>
<rect x="329.4" y="416.17" width="50.6" height="5.31" fill="#a20000"/>
<rect x="329.4" y="420.18" width="50.6" height="5.31" fill="#9d0000"/>
<rect x="329.4" y="424.18" width="50.6" height="5.31" fill="#bc0202"/>
<rect x="329.4" y="428.19" width="50.6" height="5.31" fill="#f10404"/>
<rect x="329.4" y="432.20" width="50.6" height="5.31" fill="#fa0505"/>
<rect x="329.4" y="436.21" width="50.6" height="5.31" fill="#fa0505"/>
<rect x="329.4" y="440.22" width="50.6" height="5.31" fill="#c90202"/>
<rect x="329.4" y="444.22" width="50.6" height="5.31" fill="#aa0101"/>
<rect x="329.4" y="448.23" width="50.6" height="5.31" fill="#ec0404"/>
<rect x="329.4" y="452.24" width="50.6" height="5.31" fill="#d20303"/>
<rect x="329.4" y="456.25" width="50.6" height="5.31" fill="#fa0505"/>
<rect x="329.4" y="460.26" width="50.6" height="5.31" fill="#fe0505"/>
<rect x="329.4" y="464.26" width="50.6" height="5.31" fill="#fa0505"/>
<rect x="329.4" y="468.27" width="50.6" height="5.31" fill="#f50505"/>
<rect x="329.4" y="472.28" width="50.6" height="5.31" fill="#f10404"/>
<rect x="329.4" y="476.29" width="50.6" height="5.31" fill="#f10404"/>
<rect x="329.4" y="480.30" width="50.6" height="5.31" fill="#04ed04"/>
<rect x="329.4" y="484.30" width="50.6" height="5.31" fill="#04f204"/>
<rect x="329.4" y="488.31" width="50.6" height="5.31" fill="#009b00"/>
<rect x="329.4" y="492.32" width="50.6" height="5.31" fill="#05f705"/>
<rect x="329.4" y="496.33" width="50.6" height="5.31" fill="#05f705"/>
<rect x="329.4" y="500.34" width="50.6" height="5.31" fill="#05fa05"/>
<rect x="329.4" y="504.34" width="50.6" height="5.31" fill="#04f204"/>
<rect x="329.4" y="508.35" width="50.6" height="5.31" fill="#05f705"/>
<rect x="329.4" y="512.36" width="50.6" height="5.31" fill="#05fa05"/>
<rect x="329.4" y="516.37" width="50.6" height="5.31" fill="#05fa05"/>
<rect x="329.4" y="520.38" width="50.6" height="5.31" fill="#05fa05"/>
<rect x="329.4" y="524.38" width="50.6" height="5.31" fill="#05fa05"/>
<rect x="329.4" y="528.39" width="50.6" height="5.31" fill="#03dd03"/>
<rect x="329.4" y="532.40" width="50.6" height="5.31" fill="#02ce02"/>
<rect x="329.4" y="536.41" width="50.6" height="5.31" fill="#00a000"/>
<rect x="329.4" y="540.42" width="50.6" height="5.31" fill="#04ed04"/>
<rect x="329.4" y="544.42" width="50.6" height="5.31" fill="#05f705"/>
<rect x="329.4" y="548.43" width="50.6" height="5.31" fill="#04f204"/>
<rect x="329.4" y="552.44" width="50.6" height="5.31" fill="#05fa05"/>
<rect x="329.4" y="556.45" width="50.6" height="5.31" fill="#05fa05"/>
<rect x="329.4" y="560.46" width="50.6" height="5.31" fill="#05f705"/>
<rect x="329.4" y="564.46" width="50.6" height="5.31" fill="#00af00"/>
<rect x="329.4" y="568.47" width="50.6" height="5.31" fill="#03dd03"/>
<rect x="329.4" y="572.48" width="50.6" height="5.31" fill="#04e304"/>
<rect x="329.4" y="576.49" width="50.6" height="5.31" fill="#04ed04"/>
<rect x="329.4" y="580.50" width="50.6" height="5.31" fill="#04e304"/>
<rect x="329.4" y="584.50" width="50.6" height="5.31" fill="#03dd03"/>
<rect x="329.4" y="588.51" width="50.6" height="5.31" fill="#04f204"/>
<rect x="329.4" y="592.52" width="50.6" height="5.31" fill="#03d303"/>
<rect x="329.4" y="596.53" width="50.6" height="5.31" fill="#05fa05"/>
<rect x="329.4" y="600.54" width="50.6" height="5.31" fill="#05f705"/>
<rect x="329.4" y="604.54" width="50.6" height="5.31" fill="#03dd03"/>
<rect x="329.4" y="608.55" width="50.6" height="5.31" fill="#03d303"/>
<rect x="329.4" y="612.56" width="50.6" height="5.31" fill="#02ce02"/>
<rect x="329.4" y="616.57" width="50.6" height="5.31" fill="#03d303"/>
<rect x="329.4" y="620.58" width="50.6" height="5.31" fill="#05f705"/>
<rect x="329.4" y="624.58" width="50.6" height="5.31" fill="#04e304"/>
<rect x="329.4" y="628.59" width="50.6" height="5.31" fill="#03dd03"/>
<rect x="381.9" y="231.80" width="50.9" height="5.31" fill="#03dd03"/>
<rect x="381.9" y="235.81" width="50.9" height="5.31" fill="#03d803"/>
<rect x="381.9" y="239.82" width="50.9" height="5.31" fill="#02ce02"/>
<rect x="381.9" y="243.82" width="50.9" height="5.31" fill="#009100"/>
<rect x="381.9" y="247.83" width="50.9" height="5.31" fill="#02c902"/>
<rect x="381.9" y="251.84" width="50.9" height="5.31" fill="#02c402"/>
<rect x="381.9" y="255.85" width="50.9" height="5.31" fill="#00af00"/>
<rect x="381.9" y="259.86" width="50.9" height="5.31" fill="#04ed04"/>
<rect x="381.9" y="263.86" width="50.9" height="5.31" fill="#05fa05"/>
<rect x="381.9" y="267.87" width="50.9" height="5.31" fill="#05fa05"/>
<rect x="381.9" y="271.88" width="50.9" height="5.31" fill="#04f204"/>
<rect x="381.9" y="275.89" width="50.9" height="5.31" fill="#03d803"/>
<rect x="381.9" y="279.90" width="50.9" height="5.31" fill="#02ce02"/>
<rect x="381.9" y="283.90" width="50.9" height="5.31" fill="#02c402"/>
<rect x="381.9" y="287.91" width="50.9" height="5.31" fill="#03d803"/>
<rect x="381.9" y="291.92" width="50.9" height="5.31" fill="#03dd03"/>
<rect x="381.9" y="295.93" width="50.9" height="5.31" fill="#04f204"/>
<rect x="381.9" y="299.94" width="50.9" height="5.31" fill="#05f705"/>
<rect x="381.9" y="303.94" width="50.9" height="5.31" fill="#03dd03"/>
<rect x="381.9" y="307.95" width="50.9" height="5.31" fill="#03d803"/>
<rect x="381.9" y="311.96" width="50.9" height="5.31" fill="#03dd03"/>
<rect x="381.9" y="315.97" width="50.9" height="5.31" fill="#02c402"/>
<rect x="381.9" y="319.98" width="50.9" height="5.31" fill="#00a000"/>
<rect x="381.9" y="323.98" width="50.9" height="5.31" fill="#04ed04"/>
<rect x="381.9" y="327.99" width="50.9" height="5.31" fill="#04e804"/>
<rect x="381.9" y="332.00" width="50.9" height="5.31" fill="#009b00"/>
<rect x="381.9" y="336.01" width="50.9" height="5.31" fill="#009b00"/>
<rect x="381.9" y="340.02" width="50.9" height="5.31" fill="#00a000"/>
<rect x="381.9" y="344.02" width="50.9" height="5.31" fill="#02c402"/>
<rect x="381.9" y="348.03" width="50.9" height="5.31" fill="#00a500"/>
<rect x="381.9" y="352.04" width="50.9" height="5.31" fill="#02c902"/>
<rect x="381.9" y="356.05" width="50.9" height="5.31" fill="#02ce02"/>
<rect x="381.9" y="360.06" width="50.9" height="5.31" fill="#02ce02"/>
<rect x="381.9" y="364.06" width="50.9" height="5.31" fill="#02ce02"/>
<rect x="381.9" y="368.07" width="50.9" height="5.31" fill="#03d803"/>
<rect x="381.9" y="372.08" width="50.9" height="5.31" fill="#05f705"/>
<rect x="381.9" y="376.09" width="50.9" height="5.31" fill="#04f204"/>
<rect x="381.9" y="380.10" width="50.9" height="5.31" fill="#03d803"/>
<rect x="381.9" y="384.10" width="50.9" height="5.31" fill="#00a500"/>
<rect x="381.9" y="388.11" width="50.9" height="5.31" fill="#03d803"/>
<rect x="381.9" y="392.12" width="50.9" height="5.31" fill="#03d803"/>
<rect x="381.9" y="396.13" width="50.9" height="5.31" fill="#02c902"/>
<rect x="381.9" y="400.14" width="50.9" height="5.31" fill="#02c402"/>
<rect x="381.9" y="404.14" width="50.9" height="5.31" fill="#01bf01"/>
<rect x="381.9" y="408.15" width="50.9" height="5.31" fill="#00af00"/>
<rect x="381.9" y="412.16" width="50.9" height="5.31" fill="#00af00"/>
<rect x="381.9" y="416.17" width="50.9" height="5.31" fill="#009600"/>
<rect x="381.9" y="420.18" width="50.9" height="5.31" fill="#00a000"/>
<rect x="381.9" y="424.18" width="50.9" height="5.31" fill="#04ed04"/>
<rect x="381.9" y="428.19" width="50.9" height="5.31" fill="#03d803"/>
<rect x="381.9" y="432.20" width="50.9" height="5.31" fill="#008c00"/>
<rect x="381.9" y="436.21" width="50.9" height="5.31" fill="#01ba01"/>
<rect x="381.9" y="440.22" width="50.9" height="5.31" fill="#04ed04"/>
<rect x="381.9" y="444.22" width="50.9" height="5.31" fill="#03d803"/>
<rect x="381.9" y="448.23" width="50.9" height="5.31" fill="#04ed04"/>
<rect x="381.9" y="452.24" width="50.9" height="5.31" fill="#04e804"/>
<rect x="381.9" y="456.25" width="50.9" height="5.31" fill="#03d803"/>
<rect x="381.9" y="460.26" width="50.9" height="5.31" fill="#00a000"/>
<rect x="381.9" y="464.26" width="50.9" height="5.31" fill="#009b00"/>
<rect x="381.9" y="468.27" width="50.9" height="5.31" fill="#00aa00"/>
<rect x="381.9" y="472.28" width="50.9" height="5.31" fill="#04e304"/>
<rect x="381.9" y="476.29" width="50.9" height="5.31" fill="#04ed04"/>
<rect x="381.9" y="480.30" width="50.9" height="5.31" fill="#c50202"/>
<rect x="381.9" y="484.30" width="50.9" height="5.31" fill="#b30101"/>
<rect x="381.9" y="488.31" width="50.9" height="5.31" fill="#a20000"/>
<rect x="381.9" y="492.32" width="50.9" height="5.31" fill="#940000"/>
<rect x="381.9" y="496.33" width="50.9" height="5.31" fill="#990000"/>
<rect x="381.9" y="500.34" width="50.9" height="5.31" fill="#aa0101"/>
<rect x="381.9" y="504.34" width="50.9" height="5.31" fill="#af0101"/>
<rect x="381.9" y="508.35" width="50.9" height="5.31" fill="#aa0101"/>
<rect x="381.9" y="512.36" width="50.9" height="5.31" fill="#a60101"/>
<rect x="381.9" y="516.37" width="50.9" height="5.31" fill="#a20000"/>
<rect x="381.9" y="520.38" width="50.9" height="5.31" fill="#990000"/>
<rect x="381.9" y="524.38" width="50.9" height="5.31" fill="#940000"/>
<rect x="381.9" y="528.39" width="50.9" height="5.31" fill="#d20303"/>
<rect x="381.9" y="532.40" width="50.9" height="5.31" fill="#c90202"/>
<rect x="381.9" y="536.41" width="50.9" height="5.31" fill="#c50202"/>
<rect x="381.9" y="540.42" width="50.9" height="5.31" fill="#c00202"/>
<rect x="381.9" y="544.42" width="50.9" height="5.31" fill="#a20000"/>
<rect x="381.9" y="548.43" width="50.9" height="5.31" fill="#c50202"/>
<rect x="381.9" y="552.44" width="50.9" height="5.31" fill="#b30101"/>
<rect x="381.9" y="556.45" width="50.9" height="5.31" fill="#c50202"/>
<rect x="381.9" y="560.46" width="50.9" height="5.31" fill="#c90202"/>
<rect x="381.9" y="564.46" width="50.9" height="5.31" fill="#c50202"/>
<rect x="381.9" y="568.47" width="50.9" height="5.31" fill="#b30101"/>
<rect x="381.9" y="572.48" width="50.9" height="5.31" fill="#b80202"/>
<rect x="381.9" y="576.49" width="50.9" height="5.31" fill="#c50202"/>
<rect x="381.9" y="580.50" width="50.9" height="5.31" fill="#c50202"/>
<rect x="381.9" y="584.50" width="50.9" height="5.31" fill="#b80202"/>
<rect x="381.9" y="588.51" width="50.9" height="5.31" fill="#ec0404"/>
<rect x="381.9" y="592.52" width="50.9" height="5.31" fill="#e80404"/>
<rect x="381.9" y="596.53" width="50.9" height="5.31" fill="#d20303"/>
<rect x="381.9" y="600.54" width="50.9" height="5.31" fill="#ce0303"/>
<rect x="381.9" y="604.54" width="50.9" height="5.31" fill="#df0303"/>
<rect x="381.9" y="608.55" width="50.9" height="5.31" fill="#d20303"/>
<rect x="381.9" y="612.56" width="50.9" height="5.31" fill="#df0303"/>
<rect x="381.9" y="616.57" width="50.9" height="5.31" fill="#e40404"/>
<rect x="381.9" y="620.58" width="50.9" height="5.31" fill="#df0303"/>
<rect x="381.9" y="624.58" width="50.9" height="5.31" fill="#d60303"/>
<rect x="381.9" y="628.59" width="50.9" height="5.31" fill="#d20303"/>
<rect x="431.6" y="231.80" width="50.4" height="5.31" fill="#00af00"/>
<rect x="431.6" y="235.81" width="50.4" height="5.31" fill="#00af00"/>
<rect x="431.6" y="239.82" width="50.4" height="5.31" fill="#01b401"/>
<rect x="431.6" y="243.82" width="50.4" height="5.31" fill="#04ed04"/>
<rect x="431.6" y="247.83" width="50.4" height="5.31" fill="#02c902"/>
<rect x="431.6" y="251.84" width="50.4" height="5.31" fill="#02ce02"/>
<rect x="431.6" y="255.85" width="50.4" height="5.31" fill="#03d803"/>
<rect x="431.6" y="259.86" width="50.4" height="5.31" fill="#02c402"/>
<rect x="431.6" y="263.86" width="50.4" height="5.31" fill="#008c00"/>
<rect x="431.6" y="267.87" width="50.4" height="5.31" fill="#009100"/>
<rect x="431.6" y="271.88" width="50.4" height="5.31" fill="#00af00"/>
<rect x="431.6" y="275.89" width="50.4" height="5.31" fill="#01bf01"/>
<rect x="431.6" y="279.90" width="50.4" height="5.31" fill="#02c902"/>
<rect x="431.6" y="283.90" width="50.4" height="5.31" fill="#03d303"/>
<rect x="431.6" y="287.91" width="50.4" height="5.31" fill="#02c902"/>
<rect x="431.6" y="291.92" width="50.4" height="5.31" fill="#01bf01"/>
<rect x="431.6" y="295.93" width="50.4" height="5.31" fill="#00af00"/>
<rect x="431.6" y="299.94" width="50.4" height="5.31" fill="#008600"/>
<rect x="431.6" y="303.94" width="50.4" height="5.31" fill="#01ba01"/>
<rect x="431.6" y="307.95" width="50.4" height="5.31" fill="#02c402"/>
<rect x="431.6" y="311.96" width="50.4" height="5.31" fill="#00af00"/>
<rect x="431.6" y="315.97" width="50.4" height="5.31" fill="#02ce02"/>
<rect x="431.6" y="319.98" width="50.4" height="5.31" fill="#03d803"/>
<rect x="431.6" y="323.98" width="50.4" height="5.31" fill="#009b00"/>
<rect x="431.6" y="327.99" width="50.4" height="5.31" fill="#01bf01"/>
<rect x="431.6" y="332.00" width="50.4" height="5.31" fill="#04ed04"/>
<rect x="431.6" y="336.01" width="50.4" height="5.31" fill="#04ed04"/>
<rect x="431.6" y="340.02" width="50.4" height="5.31" fill="#03dd03"/>
<rect x="431.6" y="344.02" width="50.4" height="5.31" fill="#00af00"/>
<rect x="431.6" y="348.03" width="50.4" height="5.31" fill="#03d803"/>
<rect x="431.6" y="352.04" width="50.4" height="5.31" fill="#02c402"/>
<rect x="431.6" y="356.05" width="50.4" height="5.31" fill="#02c402"/>
<rect x="431.6" y="360.06" width="50.4" height="5.31" fill="#02c402"/>
<rect x="431.6" y="364.06" width="50.4" height="5.31" fill="#01bf01"/>
<rect x="431.6" y="368.07" width="50.4" height="5.31" fill="#01ba01"/>
<rect x="431.6" y="372.08" width="50.4" height="5.31" fill="#009100"/>
<rect x="431.6" y="376.09" width="50.4" height="5.31" fill="#009b00"/>
<rect x="431.6" y="380.10" width="50.4" height="5.31" fill="#01ba01"/>
<rect x="431.6" y="384.10" width="50.4" height="5.31" fill="#02c902"/>
<rect x="431.6" y="388.11" width="50.4" height="5.31" fill="#02c402"/>
<rect x="431.6" y="392.12" width="50.4" height="5.31" fill="#01ba01"/>
<rect x="431.6" y="396.13" width="50.4" height="5.31" fill="#02c402"/>
<rect x="431.6" y="400.14" width="50.4" height="5.31" fill="#02c902"/>
<rect x="431.6" y="404.14" width="50.4" height="5.31" fill="#02ce02"/>
<rect x="431.6" y="408.15" width="50.4" height="5.31" fill="#03d303"/>
<rect x="431.6" y="412.16" width="50.4" height="5.31" fill="#03d803"/>
<rect x="431.6" y="416.17" width="50.4" height="5.31" fill="#03d803"/>
<rect x="431.6" y="420.18" width="50.4" height="5.31" fill="#03d303"/>
<rect x="431.6" y="424.18" width="50.4" height="5.31" fill="#009100"/>
<rect x="431.6" y="428.19" width="50.4" height="5.31" fill="#02c402"/>
<rect x="431.6" y="432.20" width="50.4" height="5.31" fill="#05f705"/>
<rect x="431.6" y="436.21" width="50.4" height="5.31" fill="#04ed04"/>
<rect x="431.6" y="440.22" width="50.4" height="5.31" fill="#009600"/>
<rect x="431.6" y="444.22" width="50.4" height="5.31" fill="#03d303"/>
<rect x="431.6" y="448.23" width="50.4" height="5.31" fill="#00a000"/>
<rect x="431.6" y="452.24" width="50.4" height="5.31" fill="#00af00"/>
<rect x="431.6" y="456.25" width="50.4" height="5.31" fill="#01b401"/>
<rect x="431.6" y="460.26" width="50.4" height="5.31" fill="#04e804"/>
<rect x="431.6" y="464.26" width="50.4" height="5.31" fill="#04e804"/>
<rect x="431.6" y="468.27" width="50.4" height="5.31" fill="#03dd03"/>
<rect x="431.6" y="472.28" width="50.4" height="5.31" fill="#01ba01"/>
<rect x="431.6" y="476.29" width="50.4" height="5.31" fill="#00aa00"/>
<rect x="431.6" y="480.30" width="50.4" height="5.31" fill="#f10404"/>
<rect x="431.6" y="484.30" width="50.4" height="5.31" fill="#fa0505"/>
<rect x="431.6" y="488.31" width="50.4" height="5.31" fill="#ff0505"/>
<rect x="431.6" y="492.32" width="50.4" height="5.31" fill="#ff0505"/>
<rect x="431.6" y="496.33" width="50.4" height="5.31" fill="#ff0505"/>
<rect x="431.6" y="500.34" width="50.4" height="5.31" fill="#fe0505"/>
<rect x="431.6" y="504.34" width="50.4" height="5.31" fill="#fa0505"/>
<rect x="431.6" y="508.35" width="50.4" height="5.31" fill="#fa0505"/>
<rect x="431.6" y="512.36" width="50.4" height="5.31" fill="#fa0505"/>
<rect x="431.6" y="516.37" width="50.4" height="5.31" fill="#fe0505"/>
<rect x="431.6" y="520.38" width="50.4" height="5.31" fill="#ff0505"/>
<rect x="431.6" y="524.38" width="50.4" height="5.31" fill="#fe0505"/>
<rect x="431.6" y="528.39" width="50.4" height="5.31" fill="#d20303"/>
<rect x="431.6" y="532.40" width="50.4" height="5.31" fill="#e40404"/>
<rect x="431.6" y="536.41" width="50.4" height="5.31" fill="#e80404"/>
<rect x="431.6" y="540.42" width="50.4" height="5.31" fill="#e40404"/>
<rect x="431.6" y="544.42" width="50.4" height="5.31" fill="#f50505"/>
<rect x="431.6" y="548.43" width="50.4" height="5.31" fill="#e40404"/>
<rect x="431.6" y="552.44" width="50.4" height="5.31" fill="#fa0505"/>
<rect x="431.6" y="556.45" width="50.4" height="5.31" fill="#f50505"/>
<rect x="431.6" y="560.46" width="50.4" height="5.31" fill="#f10404"/>
<rect x="431.6" y="564.46" width="50.4" height="5.31" fill="#f50505"/>
<rect x="431.6" y="568.47" width="50.4" height="5.31" fill="#fe0505"/>
<rect x="431.6" y="572.48" width="50.4" height="5.31" fill="#fe0505"/>
<rect x="431.6" y="576.49" width="50.4" height="5.31" fill="#f50505"/>
<rect x="431.6" y="580.50" width="50.4" height="5.31" fill="#f10404"/>
<rect x="431.6" y="584.50" width="50.4" height="5.31" fill="#e80404"/>
<rect x="431.6" y="588.51" width="50.4" height="5.31" fill="#bc0202"/>
<rect x="431.6" y="592.52" width="50.4" height="5.31" fill="#c90202"/>
<rect x="431.6" y="596.53" width="50.4" height="5.31" fill="#e40404"/>
<rect x="431.6" y="600.54" width="50.4" height="5.31" fill="#d60303"/>
<rect x="431.6" y="604.54" width="50.4" height="5.31" fill="#d20303"/>
<rect x="431.6" y="608.55" width="50.4" height="5.31" fill="#df0303"/>
<rect x="431.6" y="612.56" width="50.4" height="5.31" fill="#d20303"/>
<rect x="431.6" y="616.57" width="50.4" height="5.31" fill="#c90202"/>
<rect x="431.6" y="620.58" width="50.4" height="5.31" fill="#ce0303"/>
<rect x="431.6" y="624.58" width="50.4" height="5.31" fill="#e40404"/>
<rect x="431.6" y="628.59" width="50.4" height="5.31" fill="#df0303"/>
</g>
<rect x="277" y="632.60" width="208" height="3.2" fill="#fff"/>
<g font-size="47.5" font-weight="bold" fill="#121222" stroke="#121222" stroke-width="1.4" text-rendering="geometricPrecision">
<text transform="translate(484.2,235.05) scale(0.1)">Klrg3</text>
<text transform="translate(484.2,239.07) scale(0.1)">LOC640701</text>
<text transform="translate(484.2,243.09) scale(0.1)">Acot3</text>
<text transform="translate(484.2,247.10) scale(0.1)">Snn</text>
<text transform="translate(484.2,251.12) scale(0.1)">n.a.</text>
<text transform="translate(484.2,255.14) scale(0.1)">Ms4a2</text>
<text transform="translate(484.2,259.16) scale(0.1)">LOC635333</text>
<text transform="translate(484.2,263.18) scale(0.1)">Csn1s1</text>
<text transform="translate(484.2,267.19) scale(0.1)">Krba1</text>
<text transform="translate(484.2,271.21) scale(0.1)">Cyp2b10</text>
<text transform="translate(484.2,275.23) scale(0.1)">1700012B09Rik</text>
<text transform="translate(484.2,279.25) scale(0.1)">Plagl1</text>
<text transform="translate(484.2,283.27) scale(0.1)">Plagl1</text>
<text transform="translate(484.2,287.28) scale(0.1)">Slc14a1</text>
<text transform="translate(484.2,291.30) scale(0.1)">Tpd52l1</text>
<text transform="translate(484.2,295.32) scale(0.1)">B3galt1</text>
<text transform="translate(484.2,299.34) scale(0.1)">Tpfc1</text>
<text transform="translate(484.2,303.36) scale(0.1)">Tlr12</text>
<text transform="translate(484.2,307.37) scale(0.1)">Tspan9</text>
<text transform="translate(484.2,311.39) scale(0.1)">Pfk1</text>
<text transform="translate(484.2,315.41) scale(0.1)">Tppp</text>
<text transform="translate(484.2,319.43) scale(0.1)">Gzmb</text>
<text transform="translate(484.2,323.45) scale(0.1)">Ptprs1</text>
<text transform="translate(484.2,327.46) scale(0.1)">Col18a1</text>
<text transform="translate(484.2,331.48) scale(0.1)">Crhbp</text>
<text transform="translate(484.2,335.50) scale(0.1)">Acot4</text>
<text transform="translate(484.2,339.52) scale(0.1)">Otpl2</text>
<text transform="translate(484.2,343.54) scale(0.1)">Rprm</text>
<text transform="translate(484.2,347.55) scale(0.1)">S1Pr1</text>
<text transform="translate(484.2,351.57) scale(0.1)">Ncam1</text>
<text transform="translate(484.2,355.59) scale(0.1)">Nckap1</text>
<text transform="translate(484.2,359.61) scale(0.1)">LOC677445</text>
<text transform="translate(484.2,363.63) scale(0.1)">Trpm6</text>
<text transform="translate(484.2,367.64) scale(0.1)">Trps6</text>
<text transform="translate(484.2,371.66) scale(0.1)">Matn4</text>
<text transform="translate(484.2,375.68) scale(0.1)">Fam3b</text>
<text transform="translate(484.2,379.70) scale(0.1)">Eng</text>
<text transform="translate(484.2,383.72) scale(0.1)">Ell2l1</text>
<text transform="translate(484.2,387.73) scale(0.1)">Gm4827</text>
<text transform="translate(484.2,391.75) scale(0.1)">Faim3</text>
<text transform="translate(484.2,395.77) scale(0.1)">Bmp7</text>
<text transform="translate(484.2,399.79) scale(0.1)">LOC100044678</text>
<text transform="translate(484.2,403.81) scale(0.1)">St8sia6</text>
<text transform="translate(484.2,407.82) scale(0.1)">Calca</text>
<text transform="translate(484.2,411.84) scale(0.1)">Rfx2</text>
<text transform="translate(484.2,415.86) scale(0.1)">9430416L09Rik</text>
<text transform="translate(484.2,419.88) scale(0.1)">Plekhg6</text>
<text transform="translate(484.2,423.90) scale(0.1)">Csx1c</text>
<text transform="translate(484.2,427.91) scale(0.1)">Rimkla</text>
<text transform="translate(484.2,431.93) scale(0.1)">n.a.</text>
<text transform="translate(484.2,435.95) scale(0.1)">Kctd15</text>
<text transform="translate(484.2,439.97) scale(0.1)">Satb1</text>
<text transform="translate(484.2,443.99) scale(0.1)">Tctex1d1</text>
<text transform="translate(484.2,448.00) scale(0.1)">Ak3</text>
<text transform="translate(484.2,452.02) scale(0.1)">Prnp</text>
<text transform="translate(484.2,456.04) scale(0.1)">Csn1s2a</text>
<text transform="translate(484.2,460.06) scale(0.1)">Daf2</text>
<text transform="translate(484.2,464.08) scale(0.1)">Nrip1</text>
<text transform="translate(484.2,468.09) scale(0.1)">Gpc3</text>
<text transform="translate(484.2,472.11) scale(0.1)">Mmp2</text>
<text transform="translate(484.2,476.13) scale(0.1)">Prss28</text>
<text transform="translate(484.2,480.15) scale(0.1)">Scin</text>
<text transform="translate(484.2,484.17) scale(0.1)">Itsn1</text>
<text transform="translate(484.2,488.18) scale(0.1)">Tgfb2</text>
<text transform="translate(484.2,492.20) scale(0.1)">St6gal1</text>
<text transform="translate(484.2,496.22) scale(0.1)">CD28</text>
<text transform="translate(484.2,500.24) scale(0.1)">Ptgis</text>
<text transform="translate(484.2,504.26) scale(0.1)">Tgfb3</text>
<text transform="translate(484.2,508.27) scale(0.1)">Itsn1</text>
<text transform="translate(484.2,512.29) scale(0.1)">Gm2240</text>
<text transform="translate(484.2,516.31) scale(0.1)">Ednrb</text>
<text transform="translate(484.2,520.33) scale(0.1)">Ly86</text>
<text transform="translate(484.2,524.35) scale(0.1)">C1qc</text>
<text transform="translate(484.2,528.36) scale(0.1)">Pde11a</text>
<text transform="translate(484.2,532.38) scale(0.1)">Cyp26a1</text>
<text transform="translate(484.2,536.40) scale(0.1)">Ly6f</text>
<text transform="translate(484.2,540.42) scale(0.1)">Gpx8</text>
<text transform="translate(484.2,544.44) scale(0.1)">Pira11</text>
<text transform="translate(484.2,548.45) scale(0.1)">Gng11</text>
<text transform="translate(484.2,552.47) scale(0.1)">Pira11</text>
<text transform="translate(484.2,556.49) scale(0.1)">Apoc2</text>
<text transform="translate(484.2,560.51) scale(0.1)">Colec12</text>
<text transform="translate(484.2,564.53) scale(0.1)">Gm2022</text>
<text transform="translate(484.2,568.54) scale(0.1)">Tmem47</text>
<text transform="translate(484.2,572.56) scale(0.1)">Pde11a</text>
<text transform="translate(484.2,576.58) scale(0.1)">Ccl8</text>
<text transform="translate(484.2,580.60) scale(0.1)">Ednrb</text>
<text transform="translate(484.2,584.62) scale(0.1)">Atrn</text>
<text transform="translate(484.2,588.63) scale(0.1)">Gm2022</text>
<text transform="translate(484.2,592.65) scale(0.1)">Serpine2</text>
<text transform="translate(484.2,596.67) scale(0.1)">Asb11</text>
<text transform="translate(484.2,600.69) scale(0.1)">Grik4</text>
<text transform="translate(484.2,604.71) scale(0.1)">Cds1</text>
<text transform="translate(484.2,608.72) scale(0.1)">Abcg3</text>
<text transform="translate(484.2,612.74) scale(0.1)">n.a.</text>
<text transform="translate(484.2,616.76) scale(0.1)">LOC100045643</text>
<text transform="translate(484.2,620.78) scale(0.1)">Adamts2</text>
<text transform="translate(484.2,624.80) scale(0.1)">Serpinb9g</text>
<text transform="translate(484.2,628.81) scale(0.1)">Car8</text>
<text transform="translate(484.2,632.83) scale(0.1)">1810019J16Rik</text>
</g>
<text x="300.8" y="642.5" font-size="8.2" font-weight="bold" text-anchor="middle" fill="#111" stroke="#111" stroke-width="0.28" textLength="28.4" lengthAdjust="spacingAndGlyphs" >HOXA1</text>
<text x="350.1" y="642.5" font-size="8.2" font-weight="bold" text-anchor="middle" fill="#111" stroke="#111" stroke-width="0.28" textLength="38" lengthAdjust="spacingAndGlyphs" >HOXA9/1</text>
<text x="403.9" y="642.5" font-size="8.2" font-weight="bold" text-anchor="middle" fill="#111" stroke="#111" stroke-width="0.28" textLength="28.8" lengthAdjust="spacingAndGlyphs" >HOXA9</text>
<text x="453" y="642.5" font-size="8.2" font-weight="bold" text-anchor="middle" fill="#111" stroke="#111" stroke-width="0.28" textLength="37" lengthAdjust="spacingAndGlyphs" >HOXA1/9</text>
</svg>
</body></html>
